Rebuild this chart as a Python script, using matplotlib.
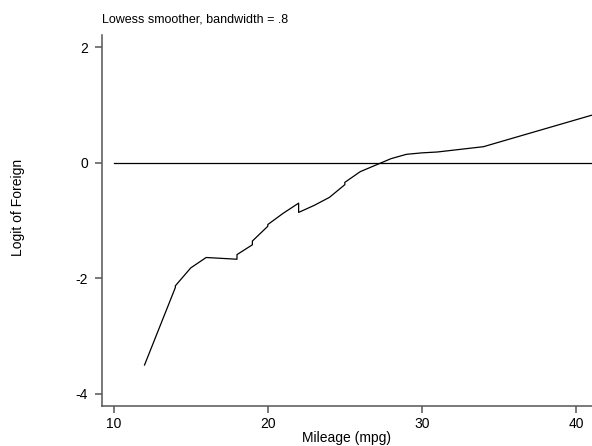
import matplotlib
matplotlib.use("Agg")
import matplotlib.pyplot as plt

plt.rcParams['font.family'] = ['Liberation Sans', 'DejaVu Sans']
plt.rcParams['axes.unicode_minus'] = False

# lowess smoothed logit (ties give vertical steps)
mpg = [12, 14, 14, 15, 16, 17, 18, 18, 19, 19, 20, 20, 21, 22, 22,
       23, 24, 25, 25, 26, 28, 29, 30, 31, 34, 35, 41]
logit = [-3.50, -2.16, -2.13, -1.82, -1.64, -1.655, -1.67, -1.59, -1.42, -1.355,
         -1.10, -1.07, -0.875, -0.70, -0.86, -0.74, -0.60, -0.38, -0.34, -0.155,
         0.07, 0.145, 0.17, 0.185, 0.277, 0.355, 0.82]

xticks = [10, 20, 30, 40]
yticks = [-4, -2, 0, 2]

W, H = 592, 446
fig = plt.figure(figsize=(W / 100, H / 100), dpi=100)
ax = fig.add_axes([101.7 / W, 40 / H, 1 - 101.7 / W, 371 / H])

ax.plot(mpg, logit, color='black', lw=0.9)
ax.plot([10, 41.04], [0, 0], color='black', lw=0.9)

ax.set_xlim(9.221, 41.04)
ax.set_ylim(-4.209, 2.209)
ax.set_xticks(xticks)
ax.set_yticks(yticks)

for s in ['top', 'right']:
    ax.spines[s].set_visible(False)
for s in ['left', 'bottom']:
    ax.spines[s].set_color('#555555')
    ax.spines[s].set_linewidth(1.1)

ax.tick_params(axis='both', direction='out', length=5, width=1.1,
               color='#555555', labelsize=10, labelcolor='black')
ax.tick_params(axis='x', pad=3)
ax.tick_params(axis='y', pad=5)

fig.text(102 / W, 1 - 23 / H, 'Lowess smoother, bandwidth = .8',
         fontsize=9, ha='left', va='baseline')
fig.text(18 / W, 1 - 207 / H, 'Logit of Foreign', fontsize=10,
         rotation=90, ha='center', va='center')
fig.text(346.8 / W, 1 - 442 / H, 'Mileage (mpg)', fontsize=10,
         ha='center', va='baseline')

fig.savefig('out.png', dpi=100)
